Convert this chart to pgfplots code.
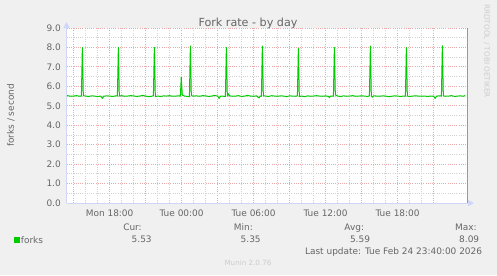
\documentclass[border=0pt]{standalone}
\usepackage{pgfplots}
\pgfplotsset{compat=1.18}
\usepackage{pgfplotstable}
\usepackage{fontspec}
\setmainfont{DejaVu Sans}
\usetikzlibrary{arrows.meta}
\definecolor{bgcol}{HTML}{F0F0F0}
\definecolor{fontcol}{HTML}{666666}
\definecolor{axiscol}{HTML}{CFD6F8}
\definecolor{mgridcol}{HTML}{E8AAAA}
\definecolor{gridcol}{HTML}{D2D2D2}
\definecolor{linecol}{HTML}{00CC00}
\definecolor{lightcol}{HTML}{CCCCCC}
\definecolor{edgecol}{HTML}{999999}

\pgfplotstableread{
t v
14.45 5.53
14.50 5.52
14.75 5.49
15.00 5.50
15.25 5.52
15.50 5.49
15.65 5.50
15.73 8.00
15.81 5.52
16.00 5.50
16.25 5.48
16.50 5.51
16.75 5.50
17.00 5.47
17.25 5.50
17.40 5.38
17.50 5.49
17.75 5.51
18.00 5.50
18.25 5.48
18.50 5.51
18.65 5.50
18.73 8.00
18.81 5.50
19.00 5.52
19.25 5.49
19.50 5.50
19.75 5.52
20.00 5.51
20.25 5.48
20.50 5.50
20.75 5.53
21.00 5.50
21.25 5.47
21.50 5.49
21.65 5.52
21.73 8.00
21.81 5.47
22.00 5.50
22.25 5.48
22.50 5.51
22.75 5.50
23.00 5.52
23.25 5.49
23.50 5.50
23.75 5.51
23.90 5.50
23.97 6.47
24.06 5.55
24.25 5.50
24.50 5.48
24.65 5.47
24.73 8.07
24.81 5.52
25.00 5.50
25.25 5.51
25.50 5.49
25.75 5.52
26.00 5.51
26.25 5.48
26.50 5.50
26.75 5.53
27.00 5.50
27.12 5.38
27.25 5.50
27.50 5.49
27.65 5.48
27.73 8.00
27.81 5.50
27.90 5.62
28.00 5.51
28.25 5.49
28.50 5.50
28.75 5.52
29.00 5.48
29.25 5.50
29.50 5.53
29.75 5.50
30.00 5.49
30.25 5.51
30.45 5.40
30.55 5.50
30.65 5.49
30.73 8.07
30.81 5.51
31.00 5.50
31.25 5.48
31.50 5.52
31.75 5.50
32.00 5.49
32.25 5.51
32.50 5.50
32.75 5.47
33.00 5.51
33.25 5.50
33.50 5.49
33.65 5.51
33.73 7.95
33.81 5.48
34.00 5.50
34.25 5.47
34.50 5.51
34.75 5.49
35.00 5.50
35.25 5.52
35.50 5.50
35.75 5.49
36.00 5.51
36.25 5.48
36.31 5.42
36.40 5.50
36.65 5.49
36.73 8.00
36.81 5.56
37.00 5.50
37.25 5.48
37.50 5.51
37.75 5.49
38.00 5.50
38.25 5.52
38.50 5.49
38.75 5.50
39.00 5.51
39.25 5.50
39.50 5.48
39.65 5.51
39.73 8.07
39.81 5.50
39.90 5.44
40.00 5.51
40.25 5.50
40.50 5.49
40.75 5.51
41.00 5.50
41.25 5.47
41.50 5.49
41.75 5.51
42.00 5.50
42.25 5.48
42.50 5.50
42.65 5.49
42.73 8.00
42.81 5.50
43.00 5.48
43.25 5.50
43.50 5.51
43.75 5.50
44.00 5.49
44.25 5.50
44.50 5.48
44.75 5.50
45.00 5.49
45.12 5.38
45.25 5.50
45.50 5.51
45.65 5.50
45.73 8.09
45.81 5.51
46.00 5.49
46.25 5.50
46.50 5.52
46.75 5.48
47.00 5.50
47.25 5.51
47.50 5.49
47.62 5.53
}\forks

\begin{document}
\begin{tikzpicture}[x=1bp,y=1bp]
\fill[bgcol] (0,0) rectangle (497,275);
\begin{axis}[
  at={(67bp,72bp)}, anchor=south west,
  scale only axis, width=400bp, height=175bp,
  xmin=14.45, xmax=47.783, ymin=0, ymax=9,
  axis background/.style={fill=white},
  axis line style={draw=none},
  tick style={draw=none},
  xtick={15,18,21,24,27,30,33,36,39,42,45},
  xticklabels={,Mon 18:00,,Tue 00:00,,Tue 06:00,,Tue 12:00,,Tue 18:00,},
  minor x tick num=2,
  ytick={0,1,2,3,4,5,6,7,8,9},
  minor y tick num=1,
  grid=both,
  major grid style={draw=mgridcol, line width=0.9bp, dash pattern=on 1bp off 1.2bp},
  minor grid style={draw=gridcol, line width=0.9bp, dash pattern=on 1bp off 1.2bp},
  /pgf/number format/assume math mode=true,
  yticklabel style={/pgf/number format/fixed, /pgf/number format/fixed zerofill, /pgf/number format/precision=1},
  ticklabel style={font=\fontsize{9}{10}\selectfont, text=fontcol, inner sep=0pt},
  yticklabel style={anchor=east, xshift=-6bp},
  xticklabel style={anchor=base, yshift=-13.7bp},
  clip=false,
]
\addplot[linecol, line width=1bp, line join=round] table[x=t,y=v] {\forks};
\draw[edgecol, line width=1bp] (rel axis cs:1,0) -- (rel axis cs:1,1);
\end{axis}
% axis lines with arrows
\draw[axiscol, line width=1bp, -{Triangle[length=6bp,width=6bp]}] (66.5,72) -- (66.5,253);
\draw[axiscol, line width=1bp, -{Triangle[length=6bp,width=6bp]}] (66.5,72) -- (474,72);
% title
\node[anchor=base, text=fontcol, font=\fontsize{11.2}{13}\selectfont, inner sep=0] at (248,249) {Fork rate - by day};
% y label
\node[rotate=90, text=fontcol, font=\fontsize{9}{10}\selectfont, inner sep=0] at (11,159.5) {forks / second};
% rrdtool
\node[rotate=-90, text=lightcol, font=\fontsize{7.3}{8}\selectfont, inner sep=0] at (486.7,224) {RRDTOOL / TOBI OETIKER};
% legend
\fill[linecol] (14,32) rectangle (20,38.3);
\node[anchor=base west, text=fontcol, font=\fontsize{9}{10}\selectfont, inner sep=0] at (20.7,32) {forks};
\begin{scope}[every node/.style={anchor=base, text=fontcol, font=\fontsize{9}{10}\selectfont, inner sep=0}]
\node at (132.5,44.3) {Cur:};
\node at (141.7,32.7) {5.53};
\node at (243.3,44.3) {Min:};
\node at (250.7,32.7) {5.35};
\node at (354.2,44.3) {Avg:};
\node at (360,32.7) {5.59};
\node at (465.8,44.3) {Max:};
\node at (469.2,32.7) {8.09};
\node[anchor=base east] at (482.3,21) {Last update: Tue Feb 24 23:40:00 2026};
\end{scope}
\node[anchor=base, text=lightcol, font=\fontsize{7.2}{8}\selectfont, inner sep=0] at (248,9.7) {Munin 2.0.76};
\pgfresetboundingbox
\useasboundingbox (0,0) rectangle (497,275);
\end{tikzpicture}
\end{document}
